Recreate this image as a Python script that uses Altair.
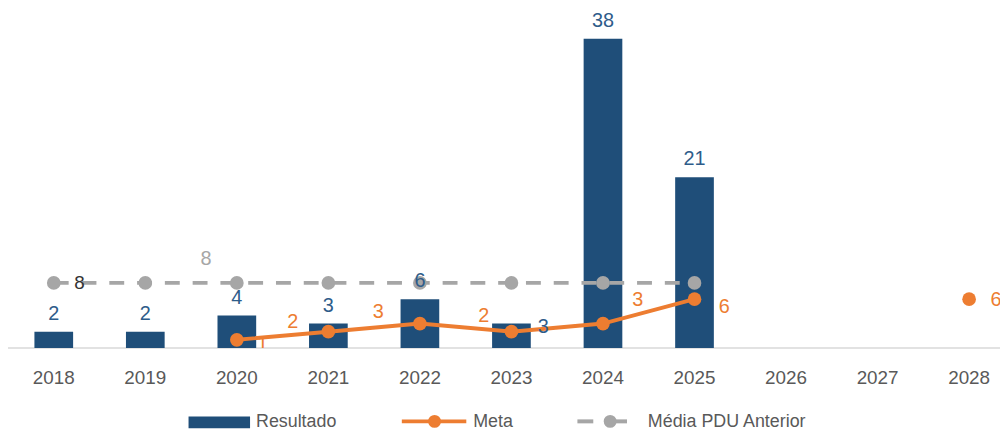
import altair as alt
import pandas as pd

years = ["2018", "2019", "2020", "2021", "2022", "2023", "2024", "2025", "2026", "2027", "2028"]

res_years = ["2018", "2019", "2020", "2021", "2022", "2023", "2024", "2025"]
res_values = [2, 2, 4, 3, 6, 3, 38, 21]

meta_years = ["2020", "2021", "2022", "2023", "2024", "2025", "2028"]
meta_values = [1, 2, 3, 2, 3, 6, 6]

media_years = ["2018", "2019", "2020", "2021", "2022", "2023", "2024", "2025"]
media_values = [8, 8, 8, 8, 8, 8, 8, 8]

legend_labels = ["Resultado", "Meta", "Média PDU Anterior"]

BLUE = "#1F4E79"
BLUE_TXT = "#2E5C8A"
ORANGE = "#ED7D31"
GREY = "#A6A6A6"
FONT = "Liberation Sans"

df_res = pd.DataFrame({"year": res_years, "value": res_values})
df_meta = pd.DataFrame({"year": meta_years, "value": meta_values})
df_media = pd.DataFrame({"year": media_years, "value": media_values})
df_one = pd.DataFrame({"k": [0]})

x = alt.X(
    "year:N",
    sort=years,
    scale=alt.Scale(domain=years, range=[0, 1015], paddingInner=0, paddingOuter=0),
    axis=alt.Axis(
        title=None, labelAngle=0, ticks=False, grid=False, domain=False,
        labelColor="#595959", labelFontSize=19, labelFont=FONT, labelPadding=21,
    ),
)
y = alt.Y("value:Q", scale=alt.Scale(domain=[0, 40], nice=False, zero=True), axis=None)

baseline = alt.Chart(df_one).mark_rule(color="#D9D9D9", strokeWidth=1.5).encode(
    x=alt.value(0), x2=alt.value(1000), y=alt.value(328))

bars = alt.Chart(df_res).mark_bar(size=39, color=BLUE).encode(x=x, y=y)

res_lbl = alt.Chart(df_res).transform_filter(
    alt.FieldOneOfPredicate(field="year", oneOf=["2018", "2019", "2020", "2021", "2022", "2024", "2025"])
).mark_text(baseline="bottom", dy=-8, fontSize=20, font=FONT, color=BLUE_TXT).encode(
    x=x, y=y, text="value:Q")
res_lbl_r = alt.Chart(df_res).transform_filter(
    alt.FieldEqualPredicate(field="year", equal="2023")
).mark_text(baseline="middle", align="center", dx=32, dy=4, fontSize=20, font=FONT, color=BLUE_TXT).encode(
    x=x, y=y, text="value:Q")

media_line = alt.Chart(df_media).mark_line(
    color=GREY, strokeWidth=4, strokeDash=[15, 13]).encode(x=x, y=y)
media_pts = alt.Chart(df_media).mark_circle(size=190, color=GREY, opacity=1).encode(x=x, y=y)
media_lbl1 = alt.Chart(df_media).transform_filter(
    alt.FieldEqualPredicate(field="year", equal="2018")
).mark_text(align="center", baseline="middle", dx=26, fontSize=19, font=FONT, color="#333333").encode(
    x=x, y=y, text="value:Q")
media_lbl2 = alt.Chart(df_media).transform_filter(
    alt.FieldEqualPredicate(field="year", equal="2020")
).mark_text(align="center", baseline="middle", dx=-31, dy=-24, fontSize=20, font=FONT, color=GREY).encode(
    x=x, y=y, text="value:Q")

meta_line = alt.Chart(df_meta).transform_filter(
    alt.FieldOneOfPredicate(field="year", oneOf=["2020", "2021", "2022", "2023", "2024", "2025"])
).mark_line(color=ORANGE, strokeWidth=4).encode(x=x, y=y)
meta_pts = alt.Chart(df_meta).mark_circle(size=190, color=ORANGE, opacity=1, clip=True).encode(x=x, y=y)


def meta_text(yrs, dx, dy, clip=False):
    return alt.Chart(df_meta).transform_filter(
        alt.FieldOneOfPredicate(field="year", oneOf=yrs)
    ).mark_text(align="center", baseline="middle", dx=dx, dy=dy, fontSize=20, font=FONT,
                color=ORANGE, clip=clip).encode(x=x, y=y, text="value:Q")


meta_lbls = [
    meta_text(["2020"], 26, 4, clip=True),
    meta_text(["2021"], -36, -10),
    meta_text(["2022"], -42, -12),
    meta_text(["2023"], -28, -16),
    meta_text(["2024"], 35, -24),
    meta_text(["2025"], 30, 8),
    meta_text(["2028"], 27, 1, clip=True),
]

# manual legend (pixel positions inside the plot area)
leg_rect = alt.Chart(df_one).mark_rect(color=BLUE).encode(
    x=alt.value(182), x2=alt.value(244), y=alt.value(397), y2=alt.value(409))
leg_t1 = alt.Chart(df_one).mark_text(align="left", baseline="alphabetic", fontSize=18, font=FONT,
                                     color="#595959").encode(
    x=alt.value(250), y=alt.value(408), text=alt.value(legend_labels[0]))
leg_l2 = alt.Chart(df_one).mark_rule(color=ORANGE, strokeWidth=4).encode(
    x=alt.value(397), x2=alt.value(462), y=alt.value(402))
leg_p2 = alt.Chart(df_one).mark_circle(color=ORANGE, size=170, opacity=1).encode(
    x=alt.value(430), y=alt.value(402))
leg_t2 = alt.Chart(df_one).mark_text(align="left", baseline="alphabetic", fontSize=18, font=FONT,
                                     color="#595959").encode(
    x=alt.value(469), y=alt.value(408), text=alt.value(legend_labels[1]))
leg_l3a = alt.Chart(df_one).mark_rule(color=GREY, strokeWidth=4).encode(
    x=alt.value(574), x2=alt.value(590), y=alt.value(402))
leg_l3b = alt.Chart(df_one).mark_rule(color=GREY, strokeWidth=4).encode(
    x=alt.value(607), x2=alt.value(624), y=alt.value(402))
leg_p3 = alt.Chart(df_one).mark_circle(color=GREY, size=170, opacity=1).encode(
    x=alt.value(607), y=alt.value(402))
leg_t3 = alt.Chart(df_one).mark_text(align="left", baseline="alphabetic", fontSize=18, font=FONT,
                                     color="#595959").encode(
    x=alt.value(645), y=alt.value(408), text=alt.value(legend_labels[2]))

chart = alt.layer(
    baseline, bars, media_line, media_pts, meta_line, meta_pts,
    res_lbl, res_lbl_r, media_lbl1, media_lbl2, *meta_lbls,
    leg_rect, leg_t1, leg_l2, leg_p2, leg_t2, leg_l3a, leg_l3b, leg_p3, leg_t3,
).properties(
    width=1000, height=328,
    autosize=alt.AutoSizeParams(type="none"),
    padding={"top": 13, "left": 0, "right": 0, "bottom": 81},
    background="white",
).configure_view(stroke=None)

chart.save("out.html", embed_options={"renderer": "svg", "actions": False})
